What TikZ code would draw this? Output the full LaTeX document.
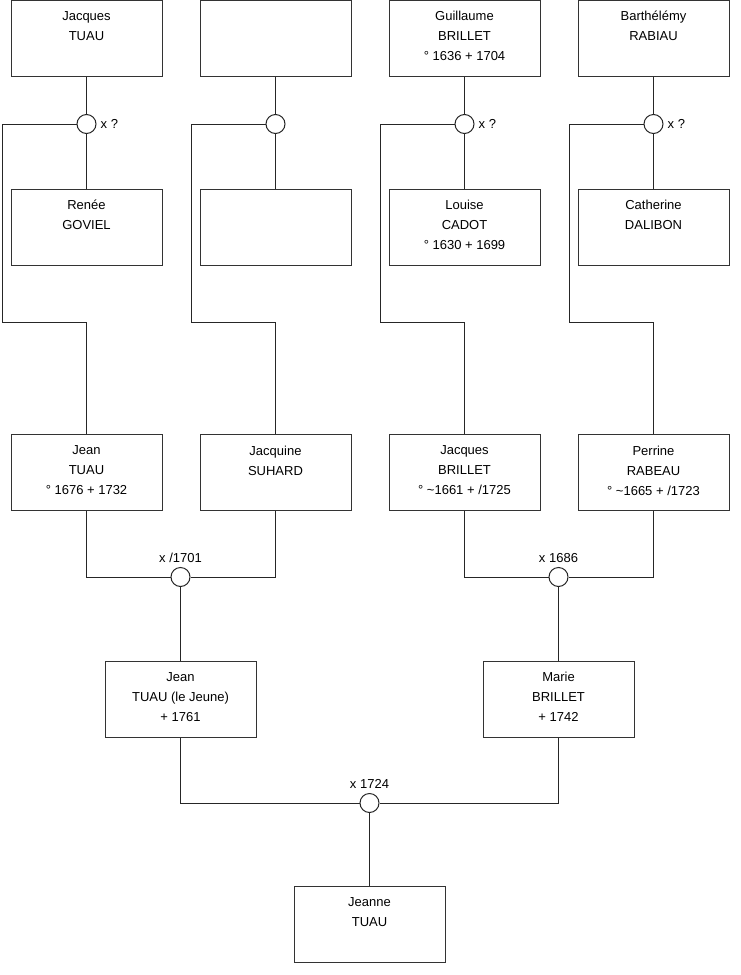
\documentclass[tikz,border=0pt]{standalone}
\usepackage{fontspec}
\setmainfont{Liberation Sans}
\begin{document}
\begin{tikzpicture}[x=1pt,y=-1pt,
 person/.style={draw=black!80, line width=1pt, minimum width=151pt, minimum height=76pt, inner sep=0pt},
 ptext/.style={anchor=north, align=center, inner sep=0pt, font=\fontsize{13}{20}\selectfont},
 union/.style={draw=black!85, line width=1pt, circle, minimum size=19pt, inner sep=0pt, fill=white},
 ulabel/.style={inner sep=0pt, font=\fontsize{13}{15}\selectfont},
 link/.style={draw=black!85, line width=1pt}]
\useasboundingbox (0,0) rectangle (740,975);
\fill[white] (0,0) rectangle (740,975);
% generation 1
\node[person] (g1a) at (86.5,38.5) {};
\node[person] (g1b) at (275.5,38.5) {};
\node[person] (g1c) at (464.5,38.5) {};
\node[person] (g1d) at (653.5,38.5) {};
% spouses
\node[person] (s1a) at (86.5,227) {};
\node[person] (s1b) at (275.5,227) {};
\node[person] (s1c) at (464.5,227) {};
\node[person] (s1d) at (653.5,227) {};
% generation 2
\node[person] (g2a) at (86.5,472.5) {};
\node[person] (g2b) at (275.5,472.5) {};
\node[person] (g2c) at (464.5,472.5) {};
\node[person] (g2d) at (653.5,472.5) {};
% generation 3
\node[person] (g3a) at (180.5,699) {};
\node[person] (g3b) at (558.5,699) {};
% generation 4
\node[person] (g4) at (369.5,924) {};
% texts
\node[ptext] (tg1a) at ([yshift=-11pt]g1a.north) {Jacques\\TUAU};
\node[ptext] (tg1c) at ([yshift=-11pt]g1c.north) {Guillaume\\BRILLET\\° 1636 + 1704};
\node[ptext] (tg1d) at ([yshift=-11pt]g1d.north) {Barthélémy\\RABIAU};
\node[ptext] (ts1a) at ([yshift=-11.5pt]s1a.north) {Renée\\GOVIEL};
\node[ptext] (ts1c) at ([yshift=-11.5pt]s1c.north) {Louise\\CADOT\\° 1630 + 1699};
\node[ptext] (ts1d) at ([yshift=-11.5pt]s1d.north) {Catherine\\DALIBON};
\node[ptext] (tg2a) at ([yshift=-11.5pt]g2a.north) {Jean\\TUAU\\° 1676 + 1732};
\node[ptext] (tg2b) at ([yshift=-11.5pt]g2b.north) {Jacquine\\SUHARD};
\node[ptext] (tg2c) at ([yshift=-11.5pt]g2c.north) {Jacques\\BRILLET\\° \textasciitilde1661 + /1725};
\node[ptext] (tg2d) at ([yshift=-11.5pt]g2d.north) {Perrine\\RABEAU\\° \textasciitilde1665 + /1723};
\node[ptext] (tg3a) at ([yshift=-11.5pt]g3a.north) {Jean\\TUAU (le Jeune)\\+ 1761};
\node[ptext] (tg3b) at ([yshift=-11.5pt]g3b.north) {Marie\\BRILLET\\+ 1742};
\node[ptext] (tg4) at ([yshift=-11.5pt]g4.north) {Jeanne\\TUAU};
% unions
\node[union] (u1a) at (86.5,124) {};
\node[union] (u1b) at (275.5,124) {};
\node[union] (u1c) at (464.5,124) {};
\node[union] (u1d) at (653.5,124) {};
\node[union] (u2a) at (180.5,577) {};
\node[union] (u2b) at (558.5,577) {};
\node[union] (u3) at (369.5,803) {};
% union labels
\node[ulabel, anchor=west] (l1a) at ([xshift=4pt]u1a.east) {x ?};
\node[ulabel, anchor=west] (l1c) at ([xshift=4pt]u1c.east) {x ?};
\node[ulabel, anchor=west] (l1d) at ([xshift=4pt]u1d.east) {x ?};
\node[ulabel, anchor=base] (l2a) at ([yshift=5pt]u2a.north) {x /1701};
\node[ulabel, anchor=base] (l2b) at ([yshift=5pt]u2b.north) {x 1686};
\node[ulabel, anchor=base] (l3) at ([yshift=5pt]u3.north) {x 1724};
% corner coordinates
\coordinate (k1a) at (2,322);
\coordinate (k1b) at (191,322);
\coordinate (k1c) at (380,322);
\coordinate (k1d) at (569,322);
% connectors generation 1
\foreach \c in {a,b,c,d}{
  \draw[link] (g1\c.south) -- (u1\c.north);
  \draw[link] (u1\c.south) -- (s1\c.north);
  \draw[link] (u1\c.west) -| (k1\c) -| (g2\c.north);
}
% connectors generation 2
\draw[link] (g2a.south) |- (u2a.west);
\draw[link] (g2b.south) |- (u2a.east);
\draw[link] (u2a.south) -- (g3a.north);
\draw[link] (g2c.south) |- (u2b.west);
\draw[link] (g2d.south) |- (u2b.east);
\draw[link] (u2b.south) -- (g3b.north);
% connectors generation 3
\draw[link] (g3a.south) |- (u3.west);
\draw[link] (g3b.south) |- (u3.east);
\draw[link] (u3.south) -- (g4.north);
\end{tikzpicture}
\end{document}
